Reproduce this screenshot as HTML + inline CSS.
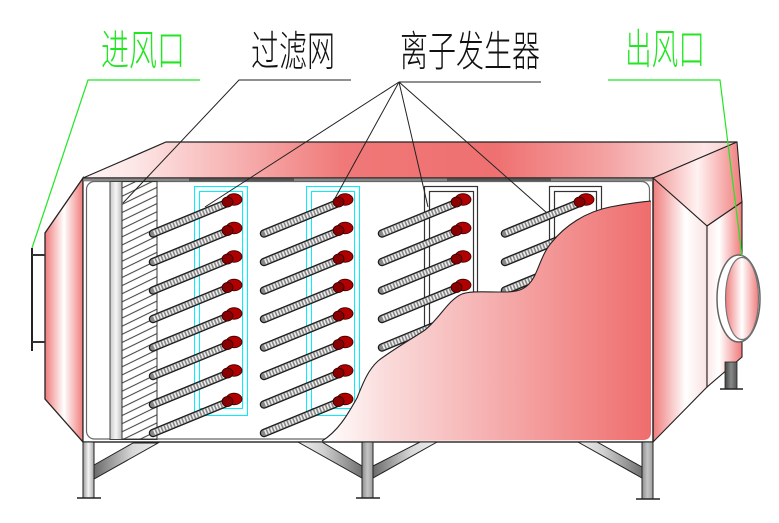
<!DOCTYPE html>
<html><head><meta charset="utf-8">
<style>
html,body{margin:0;padding:0;background:#fff;}
svg{display:block;}
text{font-family:"Liberation Sans","Noto Sans CJK SC",sans-serif;font-weight:300;}
</style></head>
<body>
<svg width="779" height="523" viewBox="0 0 779 523" xmlns="http://www.w3.org/2000/svg">
<defs>
  <linearGradient id="gTop" gradientUnits="userSpaceOnUse" x1="83" y1="0" x2="737" y2="0">
    <stop offset="0" stop-color="#fff4f4"/>
    <stop offset="0.08" stop-color="#fde6e6"/>
    <stop offset="0.4" stop-color="#f07878"/>
    <stop offset="0.63" stop-color="#ef7070"/>
    <stop offset="0.8" stop-color="#f4a2a2"/>
    <stop offset="0.95" stop-color="#fce6e6"/>
    <stop offset="1" stop-color="#f8cccc"/>
  </linearGradient>
  <linearGradient id="gLeft" gradientUnits="userSpaceOnUse" x1="45" y1="0" x2="83" y2="0">
    <stop offset="0" stop-color="#f07a7a"/>
    <stop offset="0.5" stop-color="#ffffff"/>
    <stop offset="1" stop-color="#f07c7c"/>
  </linearGradient>
  <linearGradient id="gR1" gradientUnits="userSpaceOnUse" x1="653" y1="0" x2="707" y2="0">
    <stop offset="0" stop-color="#f07c7c"/>
    <stop offset="0.6" stop-color="#ffffff"/>
    <stop offset="1" stop-color="#fbe2e2"/>
  </linearGradient>
  <linearGradient id="gR2" gradientUnits="userSpaceOnUse" x1="707" y1="0" x2="742" y2="0">
    <stop offset="0" stop-color="#fde8e8"/>
    <stop offset="0.35" stop-color="#ffffff"/>
    <stop offset="1" stop-color="#f07878"/>
  </linearGradient>
  <linearGradient id="gR3" gradientUnits="userSpaceOnUse" x1="653" y1="0" x2="742" y2="0">
    <stop offset="0" stop-color="#f39a9a"/>
    <stop offset="0.5" stop-color="#fff2f2"/>
    <stop offset="1" stop-color="#f07c7c"/>
  </linearGradient>
  <linearGradient id="gOut" gradientUnits="userSpaceOnUse" x1="725" y1="0" x2="759" y2="0">
    <stop offset="0" stop-color="#f07878"/>
    <stop offset="0.5" stop-color="#ffffff"/>
    <stop offset="1" stop-color="#f07878"/>
  </linearGradient>
  <linearGradient id="gCut" gradientUnits="userSpaceOnUse" x1="322" y1="0" x2="650" y2="0">
    <stop offset="0" stop-color="#ffffff"/>
    <stop offset="0.2" stop-color="#fadada"/>
    <stop offset="1" stop-color="#ef6d6d"/>
  </linearGradient>
  <linearGradient id="gLeg" x1="0" y1="0" x2="1" y2="0">
    <stop offset="0" stop-color="#9a9a9a"/>
    <stop offset="0.5" stop-color="#f4f4f4"/>
    <stop offset="1" stop-color="#a8a8a8"/>
  </linearGradient>
  <linearGradient id="gLegM" x1="0" y1="0" x2="1" y2="0">
    <stop offset="0" stop-color="#8c8c8c"/>
    <stop offset="0.5" stop-color="#c4c4c4"/>
    <stop offset="1" stop-color="#9c9c9c"/>
  </linearGradient>
  <linearGradient id="gBrace" x1="0" y1="0" x2="1" y2="0">
    <stop offset="0" stop-color="#6a6a6a"/>
    <stop offset="0.6" stop-color="#d8d8d8"/>
    <stop offset="1" stop-color="#f0f0f0"/>
  </linearGradient>
  <linearGradient id="gBraceR" x1="0" y1="0" x2="1" y2="0">
    <stop offset="0" stop-color="#f0f0f0"/>
    <stop offset="0.4" stop-color="#d0d0d0"/>
    <stop offset="1" stop-color="#707070"/>
  </linearGradient>
  <linearGradient id="gBack" x1="0" y1="0" x2="1" y2="0">
    <stop offset="0" stop-color="#444"/>
    <stop offset="0.5" stop-color="#888"/>
    <stop offset="1" stop-color="#555"/>
  </linearGradient>
  <linearGradient id="gBar" x1="0" y1="0" x2="1" y2="0">
    <stop offset="0" stop-color="#c8c8c8"/>
    <stop offset="0.5" stop-color="#f6f6f6"/>
    <stop offset="1" stop-color="#bdbdbd"/>
  </linearGradient>
  <pattern id="hatch" patternUnits="userSpaceOnUse" width="10" height="7.3" patternTransform="rotate(-26)">
    <line x1="0" y1="3.6" x2="10" y2="3.6" stroke="#222" stroke-width="0.9"/>
  </pattern>
  <g id="rod">
    <line x1="-78" y1="33" x2="-5" y2="3" stroke="#1a1a1a" stroke-width="8.5" stroke-linecap="round"/>
    <line x1="-78" y1="33" x2="-5" y2="3" stroke="#888" stroke-width="6" stroke-linecap="round"/>
    <line x1="-77" y1="32.6" x2="-5" y2="3" stroke="#eee" stroke-width="5" stroke-dasharray="1.6 1.6"/>
    <ellipse cx="3" cy="-1" rx="8" ry="5.8" fill="#b00000" stroke="#3a0000" stroke-width="0.8"/>
    <ellipse cx="-3.5" cy="1.5" rx="5.5" ry="5" fill="#8a0000" stroke="#2a0000" stroke-width="0.8"/>
  </g>
</defs>

<!-- top face -->
<polygon points="83,178 166,142 737,142 653,178" fill="url(#gTop)" stroke="#222" stroke-width="1.2"/>
<!-- left side panel -->
<polygon points="83,178 45,233 45,399 83,442" fill="url(#gLeft)" stroke="#222" stroke-width="1.3"/>
<!-- right side -->
<polygon points="653,178 737,142 742,202 707,226" fill="url(#gR3)" stroke="#222" stroke-width="1.1"/>
<polygon points="653,178 707,226 707,387 653,442" fill="url(#gR1)" stroke="#222" stroke-width="1.1"/>
<polygon points="707,226 742,202 742,357 707,387" fill="url(#gR2)" stroke="#222" stroke-width="1.1"/>
<!-- back right leg -->
<rect x="725" y="362" width="12" height="27" fill="url(#gBack)" stroke="#222" stroke-width="0.8"/>
<line x1="720" y1="389" x2="743" y2="389" stroke="#222" stroke-width="1.5"/>
<!-- outlet -->
<ellipse cx="738.5" cy="298.5" rx="21.5" ry="43.5" fill="#fff" stroke="#666" stroke-width="1.5"/>
<ellipse cx="742" cy="298.5" rx="16.5" ry="41" fill="url(#gOut)" stroke="#777" stroke-width="1.2"/>

<!-- front face -->
<rect x="83" y="178" width="570" height="264" fill="#fff" stroke="#222" stroke-width="1.2"/>
<rect x="84" y="178.6" width="568" height="2.8" fill="#8a8a8a"/>
<rect x="189" y="178.6" width="105" height="2.8" fill="#555"/>
<rect x="447" y="178.6" width="104" height="2.8" fill="#555"/>
<rect x="86.5" y="181.5" width="563" height="257.5" rx="8" fill="#fff" stroke="#666" stroke-width="1.2"/>

<!-- filter -->
<rect x="110" y="181.5" width="12" height="258" fill="url(#gBar)" stroke="#444" stroke-width="1"/>
<rect x="122" y="181.5" width="35" height="258" fill="url(#hatch)" stroke="#333" stroke-width="1"/>

<!-- cyan frames -->
<g fill="none" stroke="#00f0ff" stroke-width="1">
  <rect x="194.5" y="186.5" width="53" height="229"/>
  <rect x="199.5" y="191.5" width="43" height="217"/>
  <rect x="306.5" y="186.5" width="53" height="229"/>
  <rect x="311.5" y="191.5" width="43" height="217"/>
</g>
<!-- black frames -->
<g fill="none" stroke="#333" stroke-width="1.2">
  <rect x="424.5" y="186.5" width="53" height="229"/>
  <rect x="429.5" y="191.5" width="44" height="217"/>
  <rect x="549.5" y="186.5" width="52" height="229"/>
  <rect x="554.5" y="191.5" width="42" height="217"/>
</g>

<!-- rods -->
<g>
  <use href="#rod" x="231" y="200.5"/><use href="#rod" x="231" y="229"/><use href="#rod" x="231" y="257.5"/><use href="#rod" x="231" y="286"/>
  <use href="#rod" x="231" y="314.5"/><use href="#rod" x="231" y="343"/><use href="#rod" x="231" y="371.5"/><use href="#rod" x="231" y="400"/>
  <use href="#rod" x="342" y="200.5"/><use href="#rod" x="342" y="229"/><use href="#rod" x="342" y="257.5"/><use href="#rod" x="342" y="286"/>
  <use href="#rod" x="342" y="314.5"/><use href="#rod" x="342" y="343"/><use href="#rod" x="342" y="371.5"/><use href="#rod" x="342" y="400"/>
  <use href="#rod" x="460" y="200.5"/><use href="#rod" x="460" y="229"/><use href="#rod" x="460" y="257.5"/><use href="#rod" x="460" y="286"/>
  <use href="#rod" x="460" y="314.5"/><use href="#rod" x="460" y="343"/><use href="#rod" x="460" y="371.5"/><use href="#rod" x="460" y="400"/>
  <use href="#rod" x="583" y="200.5"/><use href="#rod" x="583" y="229"/><use href="#rod" x="583" y="257.5"/><use href="#rod" x="583" y="286"/>
  <use href="#rod" x="583" y="314.5"/><use href="#rod" x="583" y="343"/><use href="#rod" x="583" y="371.5"/><use href="#rod" x="583" y="400"/>
</g>

<!-- cutaway -->
<path d="M 322,441 C 340,430 350,410 357,398 C 363,383 368,370 378,361 C 392,350 410,340 425,330 C 440,318 448,300 462,294 C 470,291 480,292 505,292 C 520,292 528,288 534,277 C 540,265 543,252 552,242 C 565,226 585,212 610,207 C 625,204 640,202 651,201 L 651,432 Q 651,440 643,440 Z" fill="url(#gCut)" stroke="none"/>
<path d="M 322,441 C 340,430 350,410 357,398 C 363,383 368,370 378,361 C 392,350 410,340 425,330 C 440,318 448,300 462,294 C 470,291 480,292 505,292 C 520,292 528,288 534,277 C 540,265 543,252 552,242 C 565,226 585,212 610,207 C 625,204 640,202 651,201" fill="none" stroke="#222" stroke-width="1.1"/>
<line x1="653" y1="178" x2="653" y2="442" stroke="#222" stroke-width="1.3"/>
<line x1="83" y1="442" x2="653" y2="442" stroke="#222" stroke-width="1.3"/>

<!-- legs -->
<polygon points="94,465 133,443 158,443 94,479" fill="url(#gBrace)" stroke="#222" stroke-width="1"/>
<rect x="83" y="442" width="11" height="56" fill="url(#gLeg)" stroke="#222" stroke-width="1"/>
<line x1="77" y1="498" x2="101" y2="498" stroke="#222" stroke-width="1.6"/>

<polygon points="298,442 322,442 362,466 362,478" fill="url(#gBraceR)" stroke="#222" stroke-width="1"/>
<polygon points="373,466 420,442 437,442 373,478" fill="url(#gBrace)" stroke="#222" stroke-width="1"/>
<rect x="362" y="442" width="11" height="56" fill="url(#gLegM)" stroke="#222" stroke-width="1"/>
<line x1="356" y1="498" x2="380" y2="498" stroke="#222" stroke-width="1.6"/>

<polygon points="578,442 597,442 642,467 642,478" fill="url(#gBraceR)" stroke="#222" stroke-width="1"/>
<rect x="642" y="442" width="11" height="57" fill="url(#gLegM)" stroke="#222" stroke-width="1"/>
<line x1="636" y1="499" x2="660" y2="499" stroke="#222" stroke-width="1.6"/>

<!-- inlet flange -->
<line x1="32" y1="248" x2="32" y2="351" stroke="#222" stroke-width="2"/>
<line x1="32" y1="255" x2="45" y2="255" stroke="#333" stroke-width="2"/>
<line x1="32" y1="342" x2="45" y2="342" stroke="#333" stroke-width="2"/>

<!-- leaders -->
<polyline points="200,80 88,80 32,248" fill="none" stroke="#22e622" stroke-width="1.2"/>
<polyline points="608,80 720,80 742,256" fill="none" stroke="#22e622" stroke-width="1.2"/>
<polyline points="351,80 239,80 123,203" fill="none" stroke="#222" stroke-width="1"/>
<line x1="399" y1="82" x2="541" y2="82" stroke="#222" stroke-width="1"/>
<line x1="399" y1="82" x2="205" y2="207" stroke="#222" stroke-width="1"/>
<line x1="399" y1="82" x2="333" y2="202" stroke="#222" stroke-width="1"/>
<line x1="399" y1="82" x2="428" y2="207" stroke="#222" stroke-width="1"/>
<line x1="399" y1="82" x2="547" y2="213" stroke="#222" stroke-width="1"/>

<!-- labels -->
<text x="101" y="65" font-size="42" fill="#22e622" textLength="84" lengthAdjust="spacingAndGlyphs">进风口</text>
<text x="251" y="66" font-size="42" fill="#111" textLength="84" lengthAdjust="spacingAndGlyphs">过滤网</text>
<text x="400" y="66" font-size="42" fill="#111" textLength="140" lengthAdjust="spacingAndGlyphs">离子发生器</text>
<text x="625" y="64" font-size="42" fill="#22e622" textLength="80" lengthAdjust="spacingAndGlyphs">出风口</text>
</svg>
</body></html>
